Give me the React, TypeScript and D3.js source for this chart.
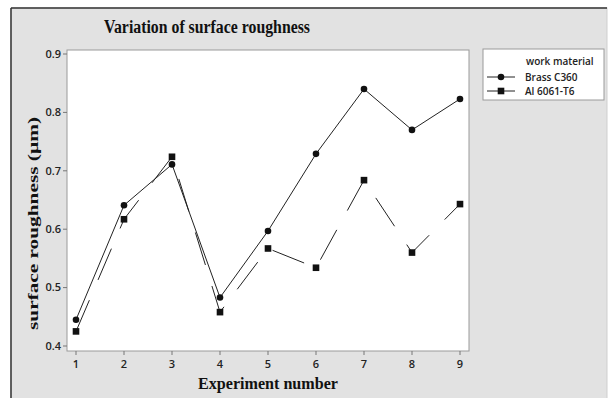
import React from "react";
import * as d3 from "d3";

const experiments = [1, 2, 3, 4, 5, 6, 7, 8, 9];
const brass = [0.445, 0.641, 0.711, 0.483, 0.597, 0.729, 0.84, 0.77, 0.823];
const alu = [0.425, 0.617, 0.724, 0.458, 0.567, 0.534, 0.684, 0.56, 0.643];
const yTicks = [0.4, 0.5, 0.6, 0.7, 0.8, 0.9];
const seriesNames = ["Brass C360", "Al 6061-T6"];

const plot = { left: 67, right: 469, top: 50, bottom: 351 };

export default function App() {
  const x = d3.scaleLinear().domain([1, 9]).range([76, 460]);
  const y = d3.scaleLinear().domain([0.4, 0.9]).range([346, 54]);

  const line = d3
    .line<number>()
    .x((_, i) => x(experiments[i]))
    .y((d) => y(d));

  const tickFont = "'Open Sans', 'DejaVu Sans', sans-serif";
  const serif = "'Liberation Serif', 'DejaVu Serif', serif";

  return (
    <svg
      width={610}
      height={398}
      style={{ position: "absolute", left: 0, top: 0 }}
    >
      <rect x={0} y={0} width={610} height={398} fill="#ffffff" />
      {/* outer panel */}
      <rect x={11} y={8} width={596} height={400} fill="#e2e2e2" stroke="#cfcfcf" />
      <line x1={11} y1={8} x2={607} y2={8} stroke="#333" strokeWidth={1.5} />
      <line x1={11} y1={8} x2={11} y2={398} stroke="#333" strokeWidth={1.5} />

      <text
        x={104}
        y={33}
        textLength={206}
        lengthAdjust="spacingAndGlyphs"
        fontFamily={serif}
        fontWeight="bold"
        fontSize={18.5}
        fill="#111"
      >
        Variation of surface roughness
      </text>

      {/* plot area */}
      <rect
        x={plot.left}
        y={plot.top}
        width={plot.right - plot.left}
        height={plot.bottom - plot.top}
        fill="#fff"
        stroke="#9a9a9a"
      />

      {yTicks.map((t) => (
        <g key={t}>
          <line x1={plot.left - 4} x2={plot.left} y1={y(t)} y2={y(t)} stroke="#777" />
          <text
            x={plot.left - 6}
            y={y(t)}
            dy="0.35em"
            textAnchor="end"
            fontFamily={tickFont}
            fontWeight={600}
            fontSize={11}
            fill="#222"
          >
            {t.toFixed(1)}
          </text>
        </g>
      ))}

      {experiments.map((e) => (
        <g key={e}>
          <line x1={x(e)} x2={x(e)} y1={plot.bottom} y2={plot.bottom + 4} stroke="#777" />
          <text
            x={x(e)}
            y={plot.bottom + 17}
            textAnchor="middle"
            fontFamily={tickFont}
            fontWeight={600}
            fontSize={11}
            fill="#222"
          >
            {e}
          </text>
        </g>
      ))}

      <text
        x={198}
        y={389}
        textLength={140}
        lengthAdjust="spacingAndGlyphs"
        fontFamily={serif}
        fontWeight="bold"
        fontSize={16}
        fill="#111"
      >
        Experiment number
      </text>
      <text
        transform="translate(38,330) rotate(-90)"
        textLength={213}
        lengthAdjust="spacingAndGlyphs"
        fontFamily={serif}
        fontWeight="bold"
        fontSize={15.5}
        fill="#111"
      >
        surface roughness (µm)
      </text>

      {/* series */}
      <path d={line(brass) || ""} fill="none" stroke="#222" strokeWidth={1} />
      <path
        d={line(alu) || ""}
        fill="none"
        stroke="#222"
        strokeWidth={1}
        strokeDasharray="34,22"
      />
      {brass.map((v, i) => (
        <circle key={"b" + i} cx={x(experiments[i])} cy={y(v)} r={3.3} fill="#111" />
      ))}
      {alu.map((v, i) => (
        <rect
          key={"a" + i}
          x={x(experiments[i]) - 3.3}
          y={y(v) - 3.3}
          width={6.6}
          height={6.6}
          fill="#111"
        />
      ))}

      {/* legend */}
      <rect x={483} y={49} width={121} height={51} fill="#fff" stroke="#9a9a9a" />
      <text x={526} y={65} fontFamily={tickFont} fontWeight={600} fontSize={10} fill="#222">
        work material
      </text>
      {seriesNames.map((name, i) => {
        const ly = 77 + i * 14;
        return (
          <g key={name}>
            <line x1={487} x2={515} y1={ly} y2={ly} stroke="#222" />
            {i === 0 ? (
              <circle cx={501} cy={ly} r={3.3} fill="#111" />
            ) : (
              <rect x={497.7} y={ly - 3.3} width={6.6} height={6.6} fill="#111" />
            )}
            <text
              x={525}
              y={ly}
              dy="0.35em"
              fontFamily={tickFont}
              fontWeight={600}
              fontSize={10}
              fill="#222"
            >
              {name}
            </text>
          </g>
        );
      })}
    </svg>
  );
}
